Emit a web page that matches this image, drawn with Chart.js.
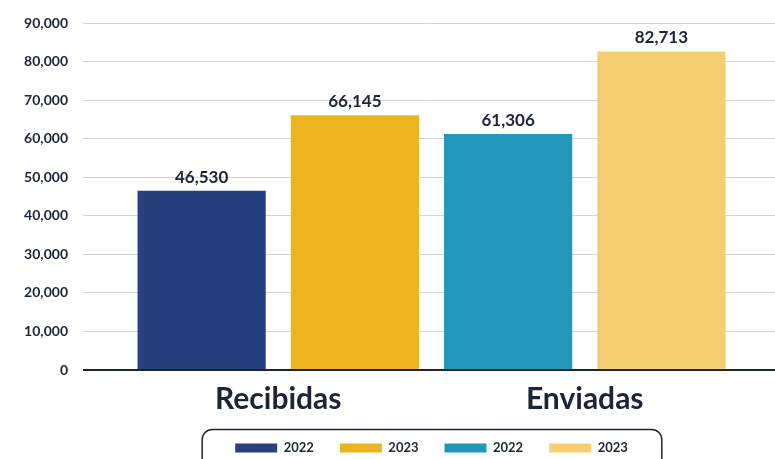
<!DOCTYPE html>
<html>
<head>
<meta charset="utf-8">
<script src="https://cdn.jsdelivr.net/npm/chart.js@4"></script>
<style>
  html, body { margin: 0; padding: 0; background: #fff; }
  #wrap { width: 775px; height: 459px; }
</style>
</head>
<body>
<div id="wrap"><canvas id="chart"></canvas></div>
<script>
// Data
const categories = ['Recibidas', 'Enviadas'];
const years = ['2022', '2023'];
const recibidas = [46530, 66145];
const enviadas = [61306, 82713];

const recibidasColors = ['#27407e', '#ecb51f'];
const enviadasColors = ['#2197ba', '#f5ce70'];

const TEXT = '#1b2439';
const GRID = '#d4d4dc';
const FONT = "'Lato', sans-serif";

// one dataset per bar, nulls skipped so each group keeps two bars
const datasets = [];
years.forEach((y, i) => datasets.push({ label: y, data: [recibidas[i], null], backgroundColor: recibidasColors[i] }));
years.forEach((y, i) => datasets.push({ label: y, data: [null, enviadas[i]], backgroundColor: enviadasColors[i] }));

const gridColor = ctx => (ctx.tick && ctx.tick.value === 0 ? TEXT : GRID);
const gridWidth = ctx => (ctx.tick && ctx.tick.value === 0 ? 2 : 1);

// value labels above bars
const valueLabels = {
    id: 'valueLabels',
    afterDatasetsDraw(chart) {
        const ctx = chart.ctx;
        ctx.save();
        ctx.font = 'bold 17px ' + FONT;
        ctx.fillStyle = TEXT;
        ctx.textAlign = 'center';
        ctx.textBaseline = 'bottom';
        chart.data.datasets.forEach((ds, i) => {
            chart.getDatasetMeta(i).data.forEach((bar, j) => {
                const v = ds.data[j];
                if (v == null) return;
                ctx.fillText(v.toLocaleString('en-US'), bar.x, bar.y - 5);
            });
        });
        ctx.restore();
    }
};

// rounded frame around the legend
const legendFrame = {
    id: 'legendFrame',
    afterDraw(chart) {
        const boxes = chart.legend && chart.legend.legendHitBoxes;
        if (!boxes || !boxes.length) return;
        const first = boxes[0];
        const last = boxes[boxes.length - 1];
        const x0 = first.left - 33;
        const x1 = last.left + last.width + 34;
        const y0 = first.top - 12;
        const ctx = chart.ctx;
        ctx.save();
        ctx.strokeStyle = TEXT;
        ctx.lineWidth = 1.5;
        ctx.beginPath();
        ctx.roundRect(x0, y0, x1 - x0, 60, 10);
        ctx.stroke();
        ctx.restore();
    }
};

new Chart(document.getElementById('chart'), {
    type: 'bar',
    data: { labels: categories, datasets: datasets },
    options: {
        responsive: true,
        maintainAspectRatio: false,
        animation: false,
        skipNull: true,
        categoryPercentage: 1,
        barPercentage: 0.8366,
        layout: { padding: { top: 22, left: 12, right: 0, bottom: -5.5 } },
        plugins: {
            legend: {
                position: 'bottom',
                fullSize: false,
                labels: {
                    boxWidth: 42,
                    boxHeight: 9,
                    padding: 26,
                    color: TEXT,
                    font: { family: FONT, size: 13, weight: 'bold' }
                }
            },
            tooltip: { enabled: false }
        },
        scales: {
            x: {
                grid: { display: false },
                border: { display: false },
                ticks: {
                    padding: 3,
                    color: TEXT,
                    font: { family: FONT, size: 30, weight: 'bold' }
                },
                afterFit: s => { s.height = 45.5; }
            },
            y: {
                min: 0,
                max: 90000,
                ticks: {
                    stepSize: 10000,
                    padding: 15,
                    color: TEXT,
                    font: { family: FONT, size: 14, weight: 'bold' },
                    callback: v => v.toLocaleString('en-US')
                },
                grid: { color: gridColor, lineWidth: gridWidth, tickLength: 42 },
                border: { display: false },
                afterFit: s => { s.width = 113; }
            },
            y2: {
                position: 'right',
                min: 0,
                max: 90000,
                ticks: { display: false, stepSize: 10000 },
                grid: { drawOnChartArea: false, color: gridColor, lineWidth: gridWidth, tickLength: 37 },
                border: { display: false },
                afterFit: s => { s.width = 37; }
            }
        }
    },
    plugins: [valueLabels, legendFrame]
});
</script>
</body>
</html>
